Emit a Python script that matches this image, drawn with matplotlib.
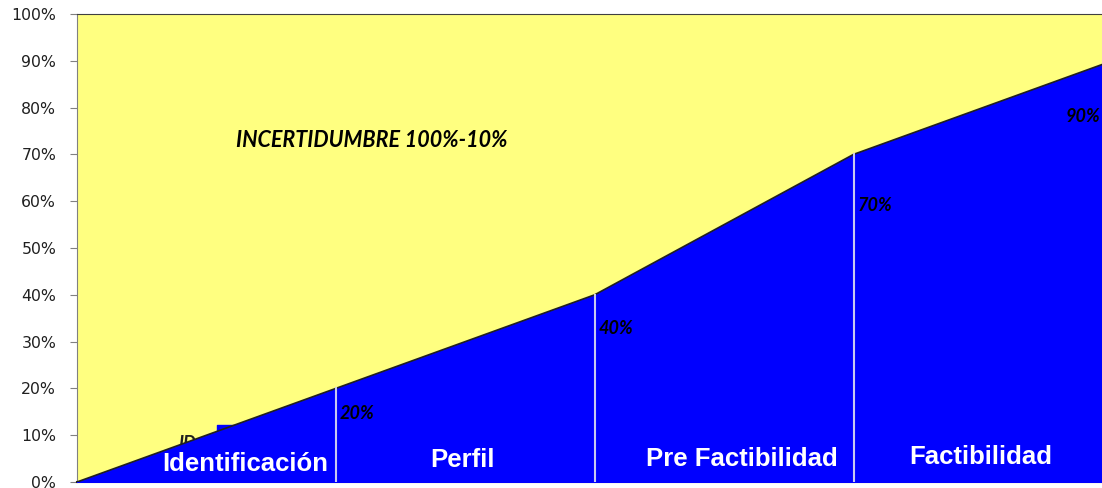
import matplotlib.pyplot as plt
from matplotlib.ticker import PercentFormatter

# stage boundaries and certainty reached at each one
stage_pos = [0, 1, 2, 3, 4]
certainty = [0, 20, 40, 70, 90]
point_labels = ["20%", "40%", "70%", "90%"]
stages = ["Identificación", "Perfil", "Pre Factibilidad", "Factibilidad"]
yticks = [0, 10, 20, 30, 40, 50, 60, 70, 80, 90, 100]

fig = plt.figure(figsize=(11.02, 4.88), dpi=100)
ax = fig.add_axes([77 / 1102, 6 / 488, 1 - 77 / 1102, 468 / 488])

# uncertainty (yellow) above, certainty (blue) below
ax.fill_between(stage_pos, certainty, 100, color="#FFFF80", zorder=1)
ax.fill_between(stage_pos, 0, certainty, color="#0000FF", zorder=3)
ax.plot(stage_pos, certainty, color="#202020", lw=1.2, zorder=4)

# separators between stages
for x, v in zip(stage_pos[1:-1], certainty[1:-1]):
    ax.plot([x, x], [0, v], color="#C8C8F0", lw=1.5, zorder=5)

# small leftover label partly hidden under the blue area
ax.text(0.39, 7.0, "ID", fontsize=13, fontweight="bold", style="italic",
        color="#202020", family="Lato", zorder=2)
ax.fill_between([0.54, 0.995], 0, 12.2, color="#0000FF", zorder=3)

# percentage labels at each boundary
lab_y = [14.7, 32.9, 59.0, 78.0]
lab_x = [1.015, 2.015, 3.015, 3.82]
for x, y, t in zip(lab_x, lab_y, point_labels):
    ax.text(x, y, t, fontsize=13, fontweight="bold", style="italic",
            color="black", family="Lato", va="center", ha="left", zorder=6)

ax.text(1.14, 73, "INCERTIDUMBRE 100%-10%", fontsize=15.5, fontweight="bold",
        style="italic", color="black", family="Lato", va="center", ha="center",
        zorder=6)

# stage names
stage_x = [0.65, 1.49, 2.57, 3.49]
stage_y = [3.9, 4.7, 5.0, 5.3]
for x, y, s in zip(stage_x, stage_y, stages):
    ax.text(x, y, s, fontsize=18.5, fontweight="bold", color="white",
            family="Liberation Sans", ha="center", va="center", zorder=6)

ax.set_xlim(0, 3.96)
ax.set_ylim(0, 100)
ax.set_yticks(yticks)
ax.yaxis.set_major_formatter(PercentFormatter(decimals=0))
ax.set_xticks([])
ax.tick_params(axis="y", direction="out", length=5, color="#808080",
               labelsize=11.3, labelcolor="#202020", pad=10)
for side in ["left", "top", "right"]:
    ax.spines[side].set_color("#808080")
ax.spines["top"].set_color("#404040")
ax.spines["right"].set_visible(False)
ax.spines["bottom"].set_color("#202020")
ax.spines["bottom"].set_linewidth(1.5)

fig.savefig("out.png", dpi=100)
